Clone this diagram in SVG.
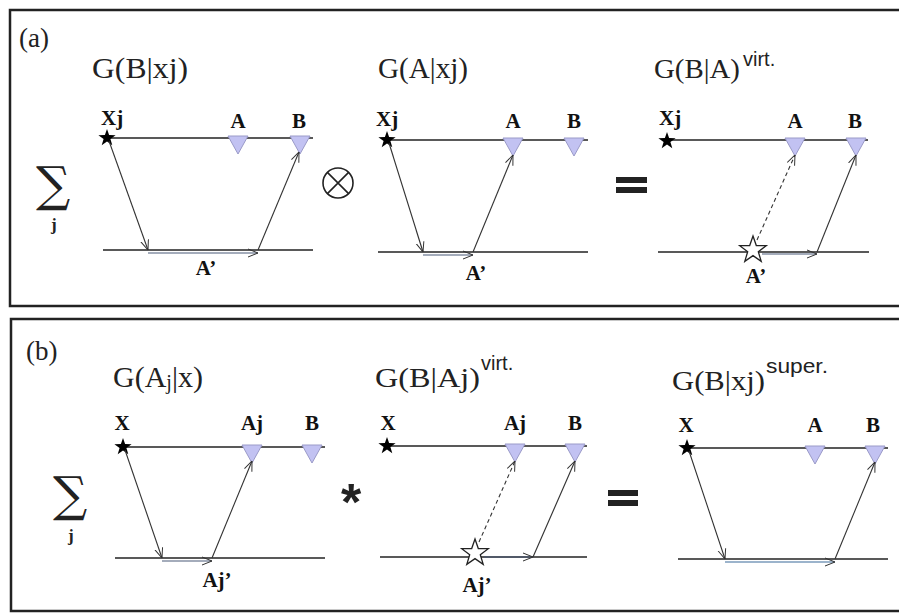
<svg xmlns="http://www.w3.org/2000/svg" width="899" height="614" viewBox="0 0 899 614">
<style>
.frame{fill:none;stroke:#222;stroke-width:2.5}
.base{stroke:#222;stroke-width:1.4}
.ray{stroke:#333;stroke-width:1.1;fill:none}
.hz{stroke:#4a5a78;stroke-width:1.1;fill:none}
.dash{stroke:#333;stroke-width:1.1;stroke-dasharray:4 3;fill:none}
.tri{fill:#c2c2f2;stroke:#9a9ac8;stroke-width:1}
.lbl{font-family:"Liberation Serif",serif;font-weight:bold;font-size:21px;fill:#111}
.ttl{font-family:"Liberation Serif",serif;font-size:30px;fill:#222}
.ttl2{font-family:"Liberation Serif",serif;font-size:27px;fill:#222}
.sup{font-family:"Liberation Sans",sans-serif;font-size:20px;fill:#222}
.tag{font-family:"Liberation Serif",serif;font-size:27px;fill:#222}
.sum{font-family:"DejaVu Serif","Liberation Serif",serif;font-size:48px;fill:#222}
.sub{font-family:"Liberation Serif",serif;font-weight:bold;font-size:17px;fill:#222}
</style>
<defs>
<marker id="ah" viewBox="0 0 10 10" refX="10" refY="5" markerWidth="10" markerHeight="10" markerUnits="userSpaceOnUse" orient="auto">
<path d="M0,1 L10,5 L0,9" fill="none" stroke="#333" stroke-width="1"/>
</marker>
<polygon id="tri" class="tri" points="-10,-2 10,-2 0,16"/>
<polygon id="star" points="0,-9 2.1,-2.9 8.6,-2.8 3.4,1 5.3,7.3 0,3.6 -5.3,7.3 -3.4,1 -8.6,-2.8 -2.1,-2.9" fill="#000"/>
<polygon id="ostar" points="0,-14 3.3,-4.5 13.3,-4.3 5.3,1.7 8.2,11.3 0,5.6 -8.2,11.3 -5.3,1.7 -13.3,-4.3 -3.3,-4.5" fill="#fff" stroke="#222" stroke-width="1.3"/>
</defs>
<rect width="899" height="614" fill="#fff"/>
<rect class="frame" x="10" y="10" width="900" height="296"/>
<rect class="frame" x="11" y="319" width="900" height="292"/>

<text class="tag" x="19" y="47">(a)</text>
<text class="tag" x="26" y="360">(b)</text>

<g id="sum-a">
<text class="sum" x="36" y="201">∑</text>
<text class="sub" x="51" y="230">j</text>
</g>
<g id="sum-b">
<text class="sum" x="53" y="511">∑</text>
<text class="sub" x="68" y="541">j</text>
</g>

<g id="titles">
<text class="ttl" x="92" y="78" textLength="96" lengthAdjust="spacingAndGlyphs">G(B|xj)</text>
<text class="ttl" x="378" y="78" textLength="90" lengthAdjust="spacingAndGlyphs">G(A|xj)</text>
<text class="ttl2" x="654" y="78" textLength="86" lengthAdjust="spacingAndGlyphs">G(B|A)</text>
<text class="sup" x="743" y="66">virt.</text>
<text class="ttl" x="113" y="387">G(A<tspan font-size="20" dy="2">j</tspan><tspan dy="-2">|x)</tspan></text>
<text class="ttl2" x="375" y="387" textLength="105" lengthAdjust="spacingAndGlyphs">G(B|Aj)</text>
<text class="sup" x="481" y="370">virt.</text>
<text class="ttl2" x="672" y="390" textLength="93" lengthAdjust="spacingAndGlyphs">G(B|xj)</text>
<text class="sup" x="766" y="373" textLength="62" lengthAdjust="spacingAndGlyphs">super.</text>
</g>

<g id="ops">
<g id="otimes"><circle cx="338" cy="183" r="15" fill="none" stroke="#222" stroke-width="1.6"/><path d="M327.4,172.4 L348.6,193.6 M348.6,172.4 L327.4,193.6" stroke="#222" stroke-width="1.6"/></g>
<g id="eq-a"><rect x="616" y="177" width="31" height="6" fill="#222"/><rect x="616" y="187" width="31" height="6" fill="#222"/></g>
<text id="ast" x="341" y="520" font-family="Liberation Sans,sans-serif" font-weight="bold" font-size="52" fill="#222">*</text>
<g id="eq-b"><rect x="608" y="490" width="30" height="6" fill="#222"/><rect x="608" y="500" width="30" height="6" fill="#222"/></g>
</g>

<g id="diagram-a1">
<line class="base" x1="107" y1="138" x2="313" y2="138"/>
<line class="base" x1="103" y1="250" x2="313" y2="250"/>
<use href="#tri" x="238" y="138"/>
<use href="#tri" x="300" y="138"/>
<use href="#star" x="107" y="138"/>
<text class="lbl" x="101" y="125">Xj</text>
<text class="lbl" x="238" y="128" text-anchor="middle">A</text>
<text class="lbl" x="299" y="128" text-anchor="middle">B</text>
<text class="lbl" x="206" y="275" text-anchor="middle">A’</text>
</g>
<g id="diagram-a2">
<line class="base" x1="387" y1="140" x2="588" y2="140"/>
<line class="base" x1="378" y1="252" x2="588" y2="252"/>
<use href="#tri" x="513" y="140"/>
<use href="#tri" x="574" y="140"/>
<use href="#star" x="387" y="140"/>
<text class="lbl" x="376" y="126">Xj</text>
<text class="lbl" x="513" y="128" text-anchor="middle">A</text>
<text class="lbl" x="574" y="128" text-anchor="middle">B</text>
<text class="lbl" x="476" y="280" text-anchor="middle">A’</text>
</g>
<g id="diagram-a3">
<line class="base" x1="667" y1="140" x2="868" y2="140"/>
<line class="base" x1="658" y1="252" x2="869" y2="252"/>
<use href="#tri" x="795" y="140"/>
<use href="#tri" x="856" y="140"/>
<use href="#star" x="667" y="141"/>
<text class="lbl" x="659" y="125">Xj</text>
<text class="lbl" x="795" y="128" text-anchor="middle">A</text>
<text class="lbl" x="855" y="128" text-anchor="middle">B</text>
<text class="lbl" x="756" y="283" text-anchor="middle">A’</text>
</g>
<g id="diagram-b1">
<line class="base" x1="123" y1="447" x2="325" y2="447"/>
<line class="base" x1="115" y1="558" x2="325" y2="558"/>
<use href="#tri" x="252" y="447"/>
<use href="#tri" x="312" y="447"/>
<use href="#star" x="123" y="447"/>
<text class="lbl" x="122" y="430" text-anchor="middle">X</text>
<text class="lbl" x="252" y="430" text-anchor="middle">Aj</text>
<text class="lbl" x="312" y="430" text-anchor="middle">B</text>
<text class="lbl" x="217" y="587" text-anchor="middle">Aj’</text>
</g>
<g id="diagram-b2">
<line class="base" x1="387" y1="446" x2="587" y2="446"/>
<line class="base" x1="380" y1="557" x2="587" y2="557"/>
<use href="#tri" x="515" y="446"/>
<use href="#tri" x="575" y="446"/>
<use href="#star" x="387" y="446"/>
<text class="lbl" x="388" y="430" text-anchor="middle">X</text>
<text class="lbl" x="515" y="430" text-anchor="middle">Aj</text>
<text class="lbl" x="575" y="430" text-anchor="middle">B</text>
<text class="lbl" x="477" y="592" text-anchor="middle">Aj’</text>
</g>
<g id="diagram-b3">
<line class="base" x1="687" y1="448" x2="888" y2="448"/>
<line class="base" x1="678" y1="559" x2="888" y2="559"/>
<use href="#tri" x="815" y="448"/>
<use href="#tri" x="875" y="448"/>
<use href="#star" x="687" y="448"/>
<text class="lbl" x="686" y="432" text-anchor="middle">X</text>
<text class="lbl" x="815" y="432" text-anchor="middle">A</text>
<text class="lbl" x="873" y="432" text-anchor="middle">B</text>
</g>

<g id="connectors">
<line class="ray" x1="109" y1="141" x2="148" y2="250" marker-end="url(#ah)"/>
<line class="hz" x1="148" y1="253" x2="258" y2="253" marker-end="url(#ah)"/>
<line class="ray" x1="258" y1="250" x2="299" y2="152" marker-end="url(#ah)"/>

<line class="ray" x1="389" y1="143" x2="423" y2="252" marker-end="url(#ah)"/>
<line class="hz" x1="423" y1="255" x2="473" y2="255" marker-end="url(#ah)"/>
<line class="ray" x1="473" y1="252" x2="513" y2="155" marker-end="url(#ah)"/>

<line class="dash" x1="757" y1="240" x2="795" y2="155" marker-end="url(#ah)"/>
<line class="hz" x1="762" y1="254" x2="817" y2="254" marker-end="url(#ah)"/>
<line class="ray" x1="817" y1="252" x2="856" y2="155" marker-end="url(#ah)"/>

<line class="ray" x1="125" y1="450" x2="162" y2="558" marker-end="url(#ah)"/>
<line class="hz" x1="162" y1="561" x2="212" y2="561" marker-end="url(#ah)"/>
<line class="ray" x1="212" y1="558" x2="252" y2="461" marker-end="url(#ah)"/>

<line class="dash" x1="479" y1="542" x2="515" y2="461" marker-end="url(#ah)"/>
<line class="hz" x1="484" y1="557" x2="533" y2="557" marker-end="url(#ah)"/>
<line class="ray" x1="533" y1="557" x2="575" y2="461" marker-end="url(#ah)"/>

<line class="ray" x1="689" y1="451" x2="725" y2="559" marker-end="url(#ah)"/>
<line class="hz" x1="725" y1="562" x2="835" y2="562" marker-end="url(#ah)" style="stroke:#3a6a9a"/>
<line class="ray" x1="835" y1="559" x2="875" y2="462" marker-end="url(#ah)"/>
</g>

<use href="#ostar" x="753" y="250"/>
<use href="#ostar" x="475" y="553"/>
</svg>
